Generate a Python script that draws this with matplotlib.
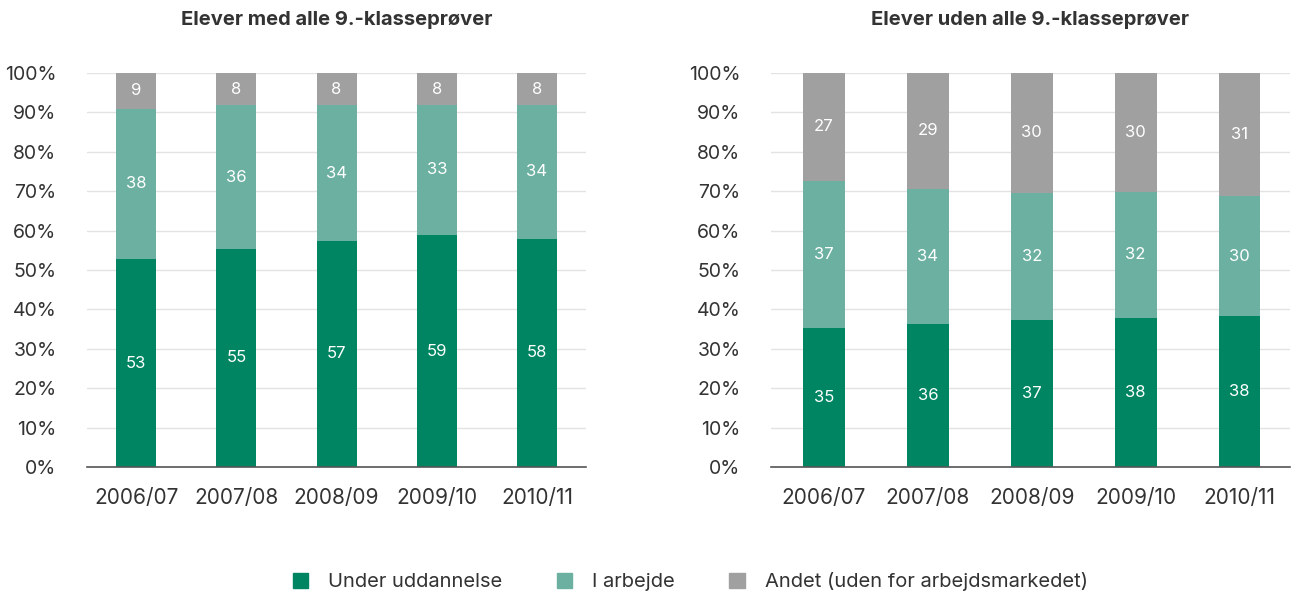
import matplotlib
matplotlib.use("Agg")
from matplotlib import pyplot as plt
from matplotlib.patches import Patch
import numpy as np

years = ['2006/07', '2007/08', '2008/09', '2009/10', '2010/11']

# Elever med alle 9.-klasseprøver
med_udd = [52.8, 55.4, 57.4, 58.9, 57.9]
med_arb = [38.2, 36.4, 34.4, 33.0, 34.0]
med_andet = [9.0, 8.2, 8.2, 8.1, 8.1]

# Elever uden alle 9.-klasseprøver
uden_udd = [35.3, 36.4, 37.4, 37.9, 38.4]
uden_arb = [37.4, 34.2, 32.2, 32.0, 30.3]
uden_andet = [27.3, 29.4, 30.4, 30.1, 31.3]

titles = ['Elever med alle 9.-klasseprøver', 'Elever uden alle 9.-klasseprøver']
series_names = ['Under uddannelse', 'I arbejde', 'Andet (uden for arbejdsmarkedet)']
colors = ['#008562', '#6bb0a1', '#a0a0a0']

plt.rcParams['font.family'] = ['Inter', 'DejaVu Sans']

fig = plt.figure(figsize=(12.93, 5.96), dpi=100)
ax1 = fig.add_axes([0.0673, 0.2164, 0.386, 0.661])
ax2 = fig.add_axes([0.5963, 0.2164, 0.401, 0.661])

data = [(med_udd, med_arb, med_andet), (uden_udd, uden_arb, uden_andet)]
xlims = [(-0.49, 4.49), (-0.51, 4.48)]

for ax, title, segs, xl in zip([ax1, ax2], titles, data, xlims):
    x = np.arange(len(years))
    bottom = np.zeros(len(years))
    for vals, c in zip(segs, colors):
        vals = np.array(vals)
        ax.bar(x, vals, 0.4, bottom=bottom, color=c, zorder=3)
        for xi, b, v in zip(x, bottom, vals):
            ax.text(xi, b + v / 2, f'{v:.0f}', ha='center', va='center',
                    color='white', fontsize=12, zorder=4)
        bottom += vals
    ax.set_ylim(0, 100)
    ax.set_xlim(*xl)
    ax.set_yticks(range(0, 101, 10))
    ax.set_yticklabels([f'{t}%' for t in range(0, 101, 10)])
    ax.set_xticks(x)
    ax.set_xticklabels(years)
    ax.tick_params(axis='both', length=0, colors='#333333')
    ax.tick_params(axis='y', pad=22, labelsize=14)
    ax.tick_params(axis='x', pad=15, labelsize=15)
    ax.grid(axis='y', color='#e3e3e3', linewidth=1, zorder=0)
    for s in ['top', 'right', 'left']:
        ax.spines[s].set_visible(False)
    ax.spines['bottom'].set_color('#555555')
    ax.spines['bottom'].set_linewidth(1.2)
    ax.spines['bottom'].set_zorder(5)
    pos = ax.get_position()
    fig.text(pos.x0 + pos.width / 2, 1 - 20 / 596, title, ha='center', va='center',
             fontsize=14.5, fontweight='bold', color='#333333')

handles = [Patch(color=c, label=n) for c, n in zip(colors, series_names)]
fig.legend(handles=handles, loc='center', bbox_to_anchor=(0.534, 0.0235), ncol=3,
           frameon=False, fontsize=14.5, handlelength=0.75, handleheight=0.75,
           handletextpad=1.0, columnspacing=2.7, labelcolor='#333333')

fig.savefig('out.png', dpi=100)
